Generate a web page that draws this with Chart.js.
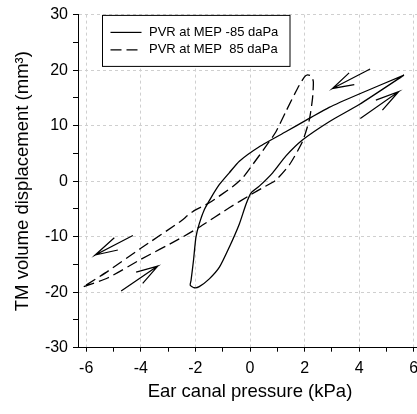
<!DOCTYPE html>
<html>
<head>
<meta charset="utf-8">
<script src="https://cdn.jsdelivr.net/npm/chart.js@4/dist/chart.umd.min.js"></script>
<style>
    html, body { margin: 0; padding: 0; overflow: hidden; background: #fff; }
    canvas { display: block; }
</style>
</head>
<body>
<canvas id="pvrChart" width="430" height="414"></canvas>
<script>
// PVR at MEP -85 daPa (solid loop)
const solidX = [5.64, 4.0, 2.9, 2.17, 1.31, 0.34, -0.39, -0.76, -1.12, -1.43, -1.67, -1.86, -1.98, -2.07, -2.16, -2.19,
    -2.04, -1.86, -1.49, -1.12, -0.76, -0.39, -0.15, 0.04, 0.34, 0.83, 1.31, 1.92, 2.9, 4.0, 5.64];
const solidY = [19.1, 15.7, 13.3, 11.3, 8.9, 6.2, 3.6, 1.5, -0.6, -3.0, -5.1, -7.7, -10.1, -14.3, -17.9, -18.75,
    -19.2, -19.0, -17.6, -15.5, -11.9, -7.7, -4.2, -2.1, -0.9, 1.5, 4.5, 7.4, 10.7, 13.8, 19.1];

// PVR at MEP 85 daPa (dashed loop)
const dashX = [-6.09, -5.2, -4.0, -2.59, -1.86, -0.76, 0.04, 0.46, 0.95, 1.45, 1.92, 2.17, 2.29, 2.32, 2.25, 2.11,
    1.99, 1.74, 1.31, 0.95, 0.58, 0.1, -0.27, -0.64, -1.49, -2.1, -2.59, -4.0, -5.2, -6.09];
const dashY = [-19.0, -17.4, -14.1, -10.4, -8.3, -4.8, -2.4, -1.2, 0.2, 3.0, 7.1, 11.0, 14.9, 17.9, 18.9, 19.15,
    18.75, 16.7, 12.5, 8.9, 6.25, 3.0, 0.6, -1.0, -3.9, -5.5, -7.4, -12.1, -16.2, -19.0];

// direction arrows: shaft start, tip, barb, tip, barb
const arrowTopX = [4.40, 3.02, 3.63, 3.02, 3.82];
const arrowTopY = [20.2, 16.7, 19.5, 16.7, 17.4];
const arrowRightX = [4.04, 5.44, 4.61, 5.44, 4.85];
const arrowRightY = [11.3, 16.1, 14.6, 16.1, 12.8];
const arrowLeftX = [-4.29, -5.67, -4.97, -5.67, -4.84];
const arrowLeftY = [-9.8, -13.3, -10.2, -13.3, -12.4];
const arrowLowX = [-4.72, -3.38, -4.17, -3.38, -3.93];
const arrowLowY = [-19.8, -15.3, -16.4, -15.3, -18.4];

const seriesLabels = ["PVR at MEP -85 daPa", "PVR at MEP  85 daPa"];
const xTitle = "Ear canal pressure (kPa)";
const yTitle = "TM volume displacement (mm\u00B3)";

const FONT = "'Liberation Sans', Arial, sans-serif";
Chart.defaults.color = "#000";
Chart.defaults.font.family = FONT;

function pts(xs, ys) {
    return xs.map((x, i) => ({ x: x, y: ys[i] }));
}

function arrowSet(xs, ys) {
    return {
        label: "",
        isArrow: true,
        data: pts(xs, ys),
        borderColor: "#000",
        borderWidth: 1.2,
        pointRadius: 0,
        showLine: true,
        tension: 0,
    };
}

//legend box drawn inside the plot, top left
const boxLegend = {
    id: "boxLegend",
    afterDraw(chart) {
        const { ctx, chartArea } = chart;
        const bx = chartArea.left + 24.5;
        const by = chartArea.top + 0.8;
        ctx.save();
        ctx.fillStyle = "#fff";
        ctx.fillRect(bx, by, 187.5, 51);
        ctx.strokeStyle = "#000";
        ctx.lineWidth = 1;
        ctx.strokeRect(bx, by, 187.5, 51);
        ctx.font = "13px " + FONT;
        ctx.textBaseline = "middle";
        ctx.fillStyle = "#000";
        chart.data.datasets.filter((d) => !d.isArrow).forEach((ds, i) => {
            const y = by + 17 + i * 17.5;
            ctx.setLineDash(ds.borderDash || []);
            ctx.lineWidth = 1.2;
            ctx.beginPath();
            ctx.moveTo(bx + 8, y);
            ctx.lineTo(bx + 39, y);
            ctx.stroke();
            ctx.setLineDash([]);
            ctx.fillText(ds.label, bx + 46.5, y);
        });
        ctx.restore();
    },
};

const ctx = document.getElementById("pvrChart").getContext("2d");
new Chart(ctx, {
    type: "scatter",
    data: {
        datasets: [
            {
                label: seriesLabels[0],
                data: pts(solidX, solidY),
                borderColor: "#000",
                borderWidth: 1.3,
                pointRadius: 0,
                showLine: true,
                tension: 0.2,
            },
            {
                label: seriesLabels[1],
                data: pts(dashX, dashY),
                borderColor: "#000",
                borderWidth: 1.3,
                borderDash: [11, 5],
                pointRadius: 0,
                showLine: true,
                tension: 0.2,
            },
            arrowSet(arrowTopX, arrowTopY),
            arrowSet(arrowRightX, arrowRightY),
            arrowSet(arrowLeftX, arrowLeftY),
            arrowSet(arrowLowX, arrowLowY),
        ],
    },
    options: {
        responsive: false,
        animation: false,
        layout: { padding: { top: 11.7, right: 8, bottom: 0, left: 0 } },
        plugins: {
            legend: { display: false },
            tooltip: { enabled: false },
        },
        scales: {
            x: {
                type: "linear",
                position: "bottom",
                min: -6.3,
                max: 6.3,
                afterFit(scale) {
                    scale.height = 66.3;
                },
                ticks: {
                    stepSize: 1,
                    includeBounds: false,
                    autoSkip: false,
                    maxRotation: 0,
                    padding: 7,
                    font: { size: 16 },
                    callback: (v) => (Math.abs(v % 2) < 1e-6 ? String(Math.round(v)) : ""),
                },
                grid: {
                    color: (c) => (c.tick && Math.abs(c.tick.value % 2) < 1e-6 ? "#cfcfcf" : "rgba(0,0,0,0)"),
                    tickColor: "#000",
                    tickLength: 4,
                },
                border: { color: "#000", width: 1, dash: [3, 3] },
                title: {
                    display: true,
                    text: xTitle,
                    font: { size: 18.5 },
                    padding: { top: 0, bottom: 11 },
                },
            },
            y: {
                type: "linear",
                position: "left",
                min: -30,
                max: 30,
                afterFit(scale) {
                    scale.width = 78;
                },
                ticks: {
                    stepSize: 5,
                    padding: 5,
                    font: { size: 16 },
                    callback: (v) => (Math.abs(v % 10) < 1e-6 ? String(v) : ""),
                },
                grid: {
                    color: (c) => (c.tick && Math.abs(c.tick.value % 10) < 1e-6 ? "#cfcfcf" : "rgba(0,0,0,0)"),
                    tickColor: "#000",
                    tickLength: 5,
                },
                border: { color: "#000", width: 1, dash: [3, 3] },
                title: {
                    display: true,
                    text: yTitle,
                    font: { size: 18.5 },
                    padding: { top: 12, bottom: 0 },
                },
            },
        },
    },
    plugins: [boxLegend],
});
</script>
</body>
</html>
